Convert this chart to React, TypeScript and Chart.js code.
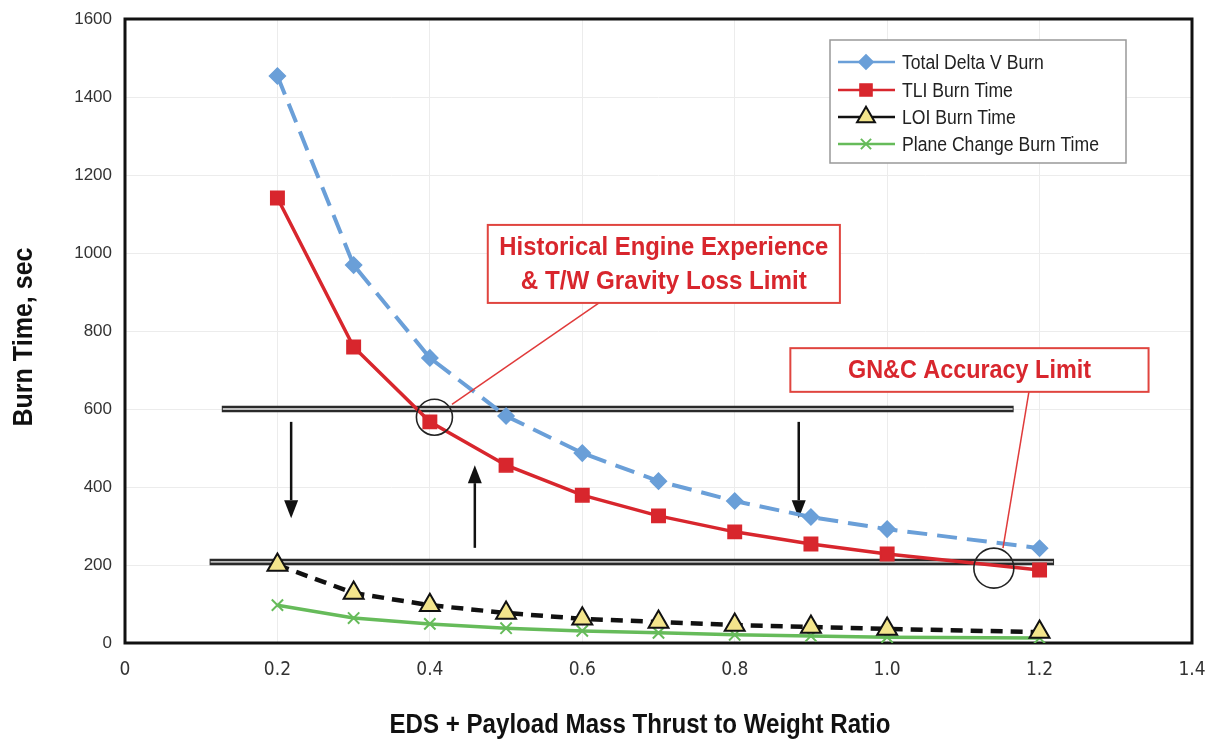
import React, { useEffect, useRef } from "react";
import { Chart, registerables } from "chart.js";

Chart.register(...registerables);

// ---- data ----
const xValues = [0.2, 0.3, 0.4, 0.5, 0.6, 0.7, 0.8, 0.9, 1.0, 1.2];
const totalDeltaV = [1454, 969, 731, 582, 487, 415, 364, 323, 292, 243];
const tliBurn = [1141, 759, 567, 456, 379, 326, 285, 254, 228, 187];
const loiBurn = [200, 128, 97, 77, 62, 54, 46, 41, 36, 28];
const planeChange = [97, 64, 49, 38, 31, 26, 21, 18, 15, 13];

const seriesLabels = ["Total Delta V Burn", "TLI Burn Time", "LOI Burn Time", "Plane Change Burn Time"];
const xTickLabels = ["0", "0.2", "0.4", "0.6", "0.8", "1.0", "1.2", "1.4"];
const xTitle = "EDS + Payload Mass Thrust to Weight Ratio";
const yTitle = "Burn Time, sec";

// ---- annotations (data coordinates) ----
const limitLines = [
  { y: 600, x0: 0.127, x1: 1.166 },
  { y: 208, x0: 0.111, x1: 1.219 },
];
const arrows = [
  { x: 0.218, from: 567, to: 320 },
  { x: 0.459, from: 244, to: 456 },
  { x: 0.884, from: 567, to: 320 },
];
const circles = [
  { x: 0.406, y: 579, r: 18 },
  { x: 1.14, y: 192, r: 20 },
];
const callouts = [
  {
    lines: ["Historical Engine Experience", "& T/W Gravity Loss Limit"],
    widths: [329, 286],
    x0: 0.476, x1: 0.938, y0: 1072, y1: 872,
    lead: { x0: 0.622, y0: 872, x1: 0.429, y1: 612 },
  },
  {
    lines: ["GN&C Accuracy Limit"],
    widths: [243],
    x0: 0.873, x1: 1.343, y0: 756, y1: 644,
    lead: { x0: 1.186, y0: 644, x1: 1.152, y1: 243 },
  },
];

const COND = "'Liberation Sans Narrow', 'DejaVu Sans Condensed', sans-serif";
const SANS = "'Liberation Sans', Arial, sans-serif";

const styles = [
  { color: "#6a9fd8", dash: [20, 10], width: 4, pointStyle: "rectRot", radius: 8, bg: "#6a9fd8", border: "#6a9fd8", bw: 1.5 },
  { color: "#d8262d", dash: [], width: 3.5, pointStyle: "rect", radius: 9.5, bg: "#d8262d", border: "#d8262d", bw: 1.5 },
  { color: "#111111", dash: [12, 8], width: 4.5, pointStyle: "triangle", radius: 11.5, bg: "#f3e58c", border: "#111111", bw: 2 },
  { color: "#66bb5a", dash: [], width: 3.5, pointStyle: "crossRot", radius: 8, bg: "#66bb5a", border: "#66bb5a", bw: 2 },
];

function drawMarker(ctx: CanvasRenderingContext2D, style: string, r: number, x: number, y: number) {
  ctx.beginPath();
  if (style === "rectRot") {
    ctx.moveTo(x, y - r); ctx.lineTo(x + r, y); ctx.lineTo(x, y + r); ctx.lineTo(x - r, y); ctx.closePath();
    ctx.fill(); ctx.stroke();
  } else if (style === "rect") {
    const h = r * Math.SQRT1_2;
    ctx.rect(x - h, y - h, 2 * h, 2 * h);
    ctx.fill(); ctx.stroke();
  } else if (style === "triangle") {
    const cos = Math.cos(Math.PI / 6);
    ctx.moveTo(x, y - r);
    ctx.lineTo(x + r * cos, y + r * 0.5);
    ctx.lineTo(x - r * cos, y + r * 0.5);
    ctx.closePath();
    ctx.fill(); ctx.stroke();
  } else {
    const d = r * Math.SQRT1_2;
    ctx.moveTo(x - d, y - d); ctx.lineTo(x + d, y + d);
    ctx.moveTo(x + d, y - d); ctx.lineTo(x - d, y + d);
    ctx.stroke();
  }
}

function fitText(ctx: CanvasRenderingContext2D, text: string, cx: number, cy: number, width: number) {
  const w = ctx.measureText(text).width;
  const k = width / w;
  ctx.save();
  ctx.translate(cx, cy);
  ctx.scale(k, 1);
  ctx.textAlign = "center";
  ctx.textBaseline = "middle";
  ctx.fillText(text, 0, 0);
  ctx.restore();
}

const annotationPlugin = {
  id: "annot",
  beforeDatasetsDraw(chart: any) {
    const { ctx, chartArea: a, scales } = chart;
    const xs = scales.x, ys = scales.y;
    ctx.save();
    ctx.strokeStyle = "#111";
    ctx.lineWidth = 3;
    ctx.strokeRect(a.left, a.top, a.right - a.left, a.bottom - a.top);
    for (const l of limitLines) {
      const y = ys.getPixelForValue(l.y);
      const x0 = xs.getPixelForValue(l.x0), x1 = xs.getPixelForValue(l.x1);
      ctx.beginPath();
      ctx.moveTo(x0, y); ctx.lineTo(x1, y);
      ctx.strokeStyle = "#2a2a2a";
      ctx.lineWidth = 6.5;
      ctx.stroke();
      ctx.beginPath();
      ctx.moveTo(x0 + 1, y); ctx.lineTo(x1 - 1, y);
      ctx.strokeStyle = "#bdbdbd";
      ctx.lineWidth = 1.8;
      ctx.stroke();
    }
    for (const ar of arrows) {
      const x = xs.getPixelForValue(ar.x);
      const y0 = ys.getPixelForValue(ar.from), y1 = ys.getPixelForValue(ar.to);
      const dir = y1 > y0 ? 1 : -1;
      const head = 18;
      ctx.beginPath();
      ctx.moveTo(x, y0); ctx.lineTo(x, y1 - dir * head);
      ctx.strokeStyle = "#111";
      ctx.lineWidth = 2.5;
      ctx.stroke();
      ctx.beginPath();
      ctx.moveTo(x, y1);
      ctx.lineTo(x - 7, y1 - dir * head);
      ctx.lineTo(x + 7, y1 - dir * head);
      ctx.closePath();
      ctx.fillStyle = "#111";
      ctx.fill();
    }
    ctx.restore();
  },
  afterDatasetsDraw(chart: any) {
    const { ctx, scales } = chart;
    const xs = scales.x, ys = scales.y;
    ctx.save();
    for (const c of circles) {
      ctx.beginPath();
      ctx.arc(xs.getPixelForValue(c.x), ys.getPixelForValue(c.y), c.r, 0, Math.PI * 2);
      ctx.strokeStyle = "#222";
      ctx.lineWidth = 1.6;
      ctx.stroke();
    }
    for (const co of callouts) {
      const x0 = xs.getPixelForValue(co.x0), x1 = xs.getPixelForValue(co.x1);
      const y0 = ys.getPixelForValue(co.y0), y1 = ys.getPixelForValue(co.y1);
      ctx.beginPath();
      ctx.moveTo(xs.getPixelForValue(co.lead.x0), ys.getPixelForValue(co.lead.y0));
      ctx.lineTo(xs.getPixelForValue(co.lead.x1), ys.getPixelForValue(co.lead.y1));
      ctx.strokeStyle = "#e03a3a";
      ctx.lineWidth = 1.5;
      ctx.stroke();
      ctx.fillStyle = "#ffffff";
      ctx.fillRect(x0, y0, x1 - x0, y1 - y0);
      ctx.strokeStyle = "#e0453f";
      ctx.lineWidth = 2;
      ctx.strokeRect(x0, y0, x1 - x0, y1 - y0);
      ctx.fillStyle = "#d8262d";
      ctx.font = `bold 26px ${SANS}`;
      const cx = (x0 + x1) / 2;
      const n = co.lines.length;
      const lh = 34;
      const cy = (y0 + y1) / 2;
      co.lines.forEach((t, i) => {
        fitText(ctx, t, cx, cy + (i - (n - 1) / 2) * lh + 1, co.widths[i]);
      });
    }
    ctx.restore();
  },
  afterDraw(chart: any) {
    const { ctx } = chart;
    ctx.save();
    const lx = 830, ly = 40, lw = 296, lh = 123;
    ctx.fillStyle = "#fff";
    ctx.fillRect(lx, ly, lw, lh);
    ctx.strokeStyle = "#999";
    ctx.lineWidth = 1.5;
    ctx.strokeRect(lx, ly, lw, lh);
    const rowY = [62, 90, 117, 144];
    chart.data.datasets.forEach((ds: any, i: number) => {
      const s = styles[i];
      const y = rowY[i];
      ctx.beginPath();
      ctx.moveTo(838, y); ctx.lineTo(895, y);
      ctx.strokeStyle = s.color;
      ctx.lineWidth = 2.5;
      ctx.setLineDash([]);
      ctx.stroke();
      ctx.fillStyle = s.bg;
      ctx.strokeStyle = s.border;
      ctx.lineWidth = s.bw;
      drawMarker(ctx, s.pointStyle, s.radius * 0.9, 866, y);
      ctx.fillStyle = "#222";
      ctx.font = `20px ${SANS}`;
      ctx.save();
      ctx.translate(902, y + 1);
      ctx.scale(0.88, 1);
      ctx.textAlign = "left";
      ctx.textBaseline = "middle";
      ctx.fillText(ds.label, 0, 0);
      ctx.restore();
    });
    ctx.fillStyle = "#111";
    ctx.font = `bold 27px ${SANS}`;
    fitText(ctx, xTitle, 640, 726, 501);
    ctx.translate(25, 337);
    ctx.rotate(-Math.PI / 2);
    fitText(ctx, yTitle, 0, 0, 179);
    ctx.restore();
  },
};

export default function App() {
  const ref = useRef<HTMLCanvasElement>(null);
  useEffect(() => {
    document.body.style.margin = "0";
    const series = [totalDeltaV, tliBurn, loiBurn, planeChange];
    const chart = new Chart(ref.current!, {
      type: "line",
      data: {
        datasets: series.map((vals, i) => ({
          label: seriesLabels[i],
          data: xValues.map((x, j) => ({ x, y: vals[j] })),
          borderColor: styles[i].color,
          borderWidth: styles[i].width,
          borderDash: styles[i].dash,
          pointStyle: styles[i].pointStyle as any,
          pointRadius: styles[i].radius,
          pointBackgroundColor: styles[i].bg,
          pointBorderColor: styles[i].border,
          pointBorderWidth: styles[i].bw,
          tension: 0,
          fill: false,
        })),
      },
      options: {
        animation: false,
        responsive: false,
        layout: { padding: { top: 19, right: 16, left: 0, bottom: 0 } },
        plugins: { legend: { display: false }, tooltip: { enabled: false } },
        scales: {
          x: {
            type: "linear",
            min: 0,
            max: 1.4,
            afterFit: (s: any) => {
              s.height = 102;
              s.paddingLeft = 0;
              s.paddingRight = 0;
            },
            ticks: {
              stepSize: 0.2,
              padding: 16,
              color: "#333",
              font: { family: COND, size: 19 },
              callback: (_v: any, i: number) => xTickLabels[i],
            },
            grid: { color: "#ececec", lineWidth: 1, drawTicks: false },
            border: { display: false },
          },
          y: {
            min: 0,
            max: 1600,
            afterFit: (s: any) => {
              s.width = 125;
              s.paddingTop = 0;
              s.paddingBottom = 0;
            },
            ticks: {
              stepSize: 200,
              padding: 13,
              color: "#333",
              font: { family: SANS, size: 17 },
              callback: (v: any) => String(v),
            },
            grid: { color: "#ececec", lineWidth: 1, drawTicks: false },
            border: { display: false },
          },
        },
      },
      plugins: [annotationPlugin],
    });
    return () => chart.destroy();
  }, []);
  return (
    <div style={{ width: 1208, height: 745 }}>
      <canvas ref={ref} width={1208} height={745} />
    </div>
  );
}
